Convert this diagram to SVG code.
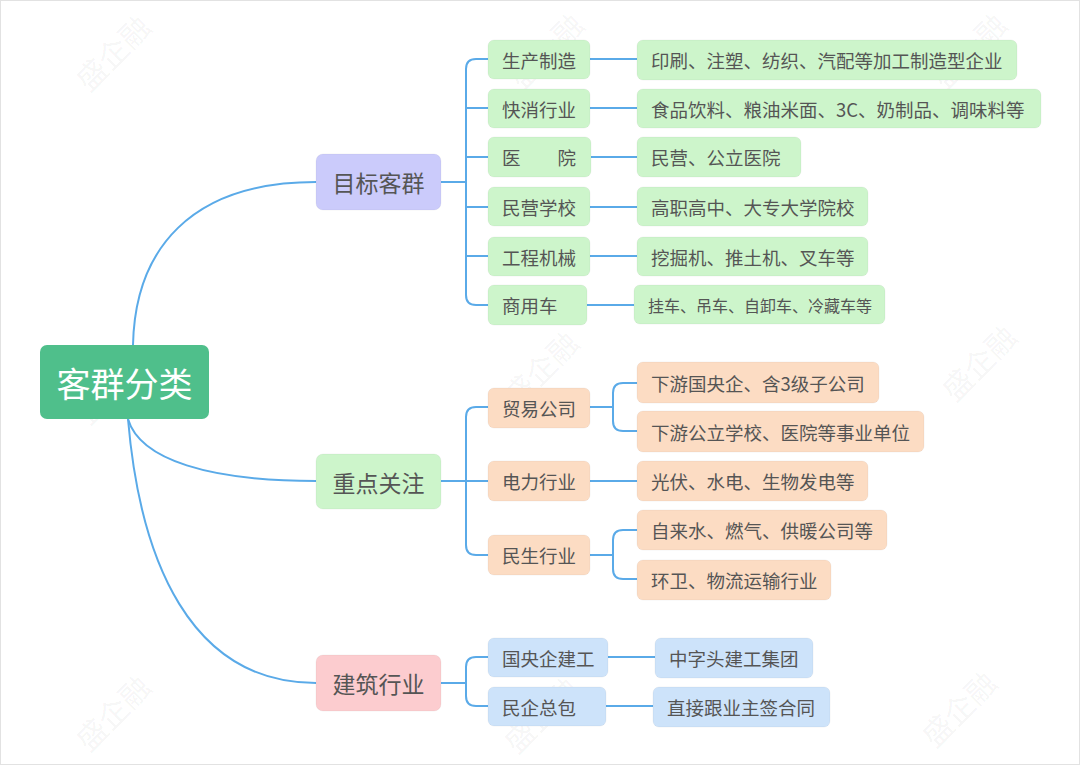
<svg xmlns="http://www.w3.org/2000/svg" width="1080" height="765" viewBox="0 0 1080 765">
<style>
text{font-family:"Noto Sans CJK SC","Noto Sans",sans-serif;dominant-baseline:central;}
.wm{font-size:30px;fill:#000;fill-opacity:0.05;text-anchor:middle;}
.root{fill:#4fbf8b;}
.rt{font-size:34px;fill:#fff;text-anchor:middle;}
.l1t{font-size:23px;fill:#555;text-anchor:middle;}
.l2t{font-size:18.5px;fill:#555;}
.lft{font-size:18.5px;fill:#555;}
.sm{font-size:16px;}
.pur{fill:#cbcbfb;}
.grn{fill:#cdf5cb;}
.org{fill:#fcdcc3;}
.red{fill:#fccccf;}
.blu{fill:#cde3fa;}
.nd{stroke:#000;stroke-opacity:0.04;stroke-width:1;}
.c{fill:none;stroke:#5aaae8;stroke-width:2;}
</style>
<rect x="0.5" y="0.5" width="1079" height="764" fill="#fff" stroke="#e2e2e2"/>
<g id="watermarks">
<text class="wm" transform="translate(112,52) rotate(-45)">盛企融</text>
<text class="wm" transform="translate(545,50) rotate(-45)">盛企融</text>
<text class="wm" transform="translate(968,50) rotate(-45)">盛企融</text>
<text class="wm" transform="translate(112,385) rotate(-45)">盛企融</text>
<text class="wm" transform="translate(540,368) rotate(-45)">盛企融</text>
<text class="wm" transform="translate(978,362) rotate(-45)">盛企融</text>
<text class="wm" transform="translate(112,712) rotate(-45)">盛企融</text>
<text class="wm" transform="translate(540,714) rotate(-45)">盛企融</text>
<text class="wm" transform="translate(958,708) rotate(-45)">盛企融</text>
</g>
<g id="connectors">
<path class="c" d="M133,345 C135,250 190,182 316,182"/>
<path class="c" d="M128,419 C140,460 210,481 316,481"/>
<path class="c" d="M128,419 C140,560 190,683 316,683"/>
<path class="c" d="M441,182 H466 M488,59 H476 Q466,59 466,69 V295 Q466,305 476,305 H488 M466,108 H488 M466,157 H488 M466,207 H488 M466,256 H488"/>
<path class="c" d="M590,59 H637 M590,108 H637 M591,157 H637 M590,207 H637 M590,256 H637 M587,305 H634"/>
<path class="c" d="M441,481 H466 M488,407 H476 Q466,407 466,417 V545 Q466,555 476,555 H488 M466,481 H488"/>
<path class="c" d="M590,407 H613 M637,383 H623 Q613,383 613,393 V421 Q613,431 623,431 H637"/>
<path class="c" d="M590,481 H637"/>
<path class="c" d="M590,555 H613 M637,530 H623 Q613,530 613,540 V569 Q613,579 623,579 H637"/>
<path class="c" d="M441,683 H466 M488,657 H476 Q466,657 466,667 V696 Q466,706 476,706 H488"/>
<path class="c" d="M608,657 H655 M606,706 H653"/>
</g>
<g id="root"><rect class="root" x="40" y="345" width="169" height="74" rx="7"/><text class="rt" x="124.5" y="382">客群分类</text></g>
<g id="n-mubiao"><rect class="pur nd" x="316" y="154" width="125" height="56" rx="7"/><text class="l1t" x="378.5" y="182">目标客群</text></g>
<g id="n-zhongdian"><rect class="grn nd" x="316" y="454" width="125" height="55" rx="7"/><text class="l1t" x="378.5" y="481.5">重点关注</text></g>
<g id="n-jianzhu"><rect class="red nd" x="316" y="655" width="125" height="56" rx="7"/><text class="l1t" x="378.5" y="683">建筑行业</text></g>

<g id="n-scz"><rect class="grn nd" x="488" y="40" width="102" height="39" rx="6"/><text class="l2t" x="502" y="59.5">生产制造</text></g>
<g id="n-kxhy"><rect class="grn nd" x="488" y="89" width="102" height="39" rx="6"/><text class="l2t" x="502" y="108.5">快消行业</text></g>
<g id="n-yy"><rect class="grn nd" x="488" y="137" width="103" height="40" rx="6"/><text class="l2t" x="502" y="157">医　　院</text></g>
<g id="n-myxx"><rect class="grn nd" x="488" y="187" width="102" height="39" rx="6"/><text class="l2t" x="502" y="206.5">民营学校</text></g>
<g id="n-gcjx"><rect class="grn nd" x="488" y="237" width="102" height="39" rx="6"/><text class="l2t" x="502" y="256.5">工程机械</text></g>
<g id="n-syc"><rect class="grn nd" x="488" y="285" width="99" height="40" rx="6"/><text class="l2t" x="502" y="305">商用车</text></g>

<g id="l-scz"><rect class="grn nd" x="637" y="40" width="380" height="40" rx="6"/><text class="lft" x="651" y="60">印刷、注塑、纺织、汽配等加工制造型企业</text></g>
<g id="l-kxhy"><rect class="grn nd" x="637" y="89" width="404" height="39" rx="6"/><text class="lft" x="651" y="108.5">食品饮料、粮油米面、3C、奶制品、调味料等</text></g>
<g id="l-yy"><rect class="grn nd" x="637" y="137" width="164" height="40" rx="6"/><text class="lft" x="651" y="157">民营、公立医院</text></g>
<g id="l-myxx"><rect class="grn nd" x="637" y="187" width="231" height="39" rx="6"/><text class="lft" x="651" y="206.5">高职高中、大专大学院校</text></g>
<g id="l-gcjx"><rect class="grn nd" x="637" y="237" width="231" height="39" rx="6"/><text class="lft" x="651" y="256.5">挖掘机、推土机、叉车等</text></g>
<g id="l-syc"><rect class="grn nd" x="634" y="285" width="251" height="39" rx="6"/><text class="lft sm" x="648" y="304.5">挂车、吊车、自卸车、冷藏车等</text></g>

<g id="n-mygs"><rect class="org nd" x="488" y="388" width="102" height="40" rx="6"/><text class="l2t" x="502" y="408">贸易公司</text></g>
<g id="n-dlhy"><rect class="org nd" x="488" y="461" width="102" height="40" rx="6"/><text class="l2t" x="502" y="481">电力行业</text></g>
<g id="n-mshy"><rect class="org nd" x="488" y="535" width="102" height="40" rx="6"/><text class="l2t" x="502" y="555">民生行业</text></g>

<g id="l-xy1"><rect class="org nd" x="637" y="362" width="242" height="41" rx="6"/><text class="lft" x="651" y="382.5">下游国央企、含3级子公司</text></g>
<g id="l-xy2"><rect class="org nd" x="637" y="411" width="287" height="41" rx="6"/><text class="lft" x="651" y="431.5">下游公立学校、医院等事业单位</text></g>
<g id="l-gf"><rect class="org nd" x="637" y="461" width="231" height="40" rx="6"/><text class="lft" x="651" y="481">光伏、水电、生物发电等</text></g>
<g id="l-zls"><rect class="org nd" x="637" y="510" width="250" height="40" rx="6"/><text class="lft" x="651" y="530">自来水、燃气、供暖公司等</text></g>
<g id="l-hw"><rect class="org nd" x="637" y="560" width="194" height="40" rx="6"/><text class="lft" x="651" y="580">环卫、物流运输行业</text></g>

<g id="n-gyq"><rect class="blu nd" x="488" y="638" width="120" height="39" rx="6"/><text class="l2t" x="502" y="657.5">国央企建工</text></g>
<g id="n-mqzb"><rect class="blu nd" x="488" y="687" width="118" height="39" rx="6"/><text class="l2t" x="502" y="706.5">民企总包</text></g>
<g id="l-zzt"><rect class="blu nd" x="655" y="638" width="158" height="40" rx="6"/><text class="lft" x="669" y="658">中字头建工集团</text></g>
<g id="l-zj"><rect class="blu nd" x="653" y="687" width="177" height="40" rx="6"/><text class="lft" x="667" y="707">直接跟业主签合同</text></g>
</svg>
